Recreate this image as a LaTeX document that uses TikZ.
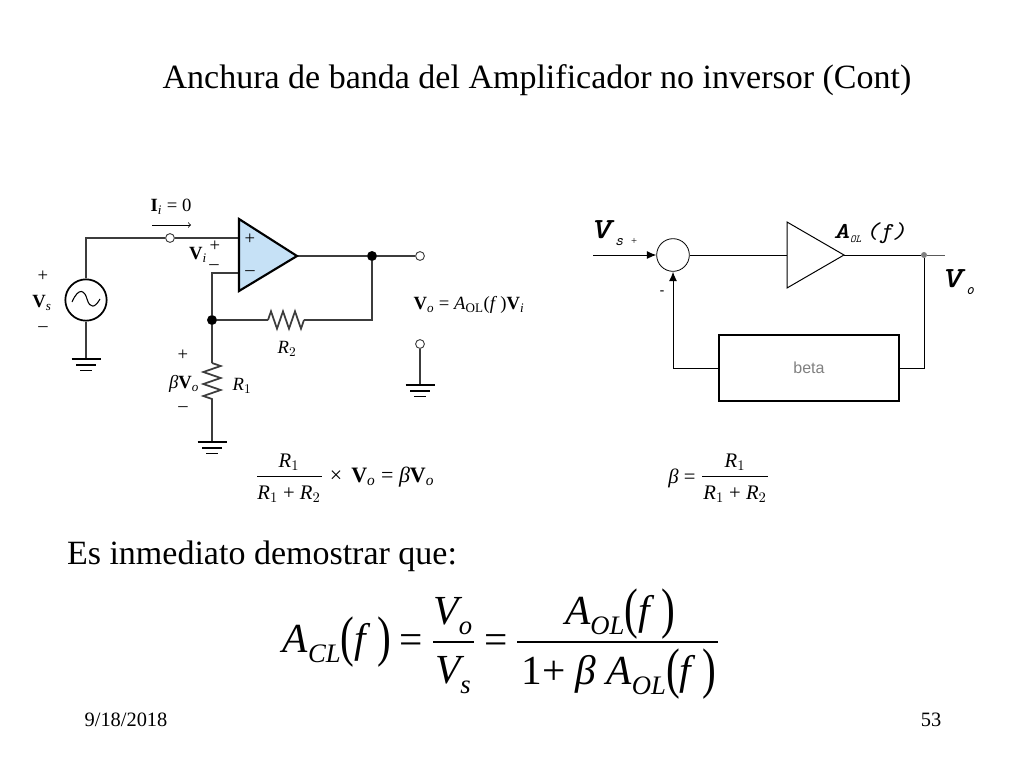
\documentclass[tikz,border=0pt]{standalone}
\usepackage{amsmath}
\usepackage{graphicx}
\usepackage{fontspec}
\setmainfont{Liberation Serif}
\setsansfont{Liberation Sans}
\newfontface\eqit{Liberation Serif Italic}
\usetikzlibrary{decorations.pathmorphing,arrows.meta}
\definecolor{opfill}{HTML}{C6E1F6}
\definecolor{wirec}{HTML}{3C3C3C}
\tikzstyle{wire}=[draw=wirec,line width=0.8pt]
\tikzstyle{thinwire}=[draw=black,line width=0.75pt]
\tikzstyle{blackdot}=[circle,draw=black,fill=black,
                      inner sep=0pt,minimum size=7pt]
\tikzstyle{whitedot}=[circle,draw=wirec,fill=white,line width=0.7pt,
                      inner sep=0pt,minimum size=6.6pt]
\tikzstyle{greydot}=[circle,fill=gray,inner sep=0pt,minimum size=4.5pt]
\tikzstyle{resistor}=[wire,line width=1.3pt,decorate,
                      decoration={zigzag,segment length=9pt,amplitude=6.5pt}]
\tikzstyle{lbl}=[inner sep=0pt,font=\fontsize{14}{16}\selectfont]
\tikzstyle{frm}=[inner sep=0pt,font=\fontsize{15.5}{18}\selectfont]
\tikzstyle{bigeq}=[inner sep=0pt,font=\fontsize{31}{34}\selectfont]
\tikzstyle{foot}=[inner sep=0pt,font=\fontsize{15.3}{18}\selectfont]
\tikzset{ground/.pic={
    \draw[line width=1.3pt] (-14.5,0) -- (14.5,0);
    \draw[line width=1.3pt] (-10,6) -- (10,6);
    \draw[line width=1.3pt] (-6,11.5) -- (6,11.5);
}}
\newcommand{\iv}[1]{\textit{#1}}
\newcommand{\lowi}[1]{$_{\textit{#1}}$}
\newcommand{\bigp}[1]{\raisebox{-2pt}{\scalebox{1}[1.35]{#1}}}
\newcommand{\eqsub}[1]{\raisebox{-7pt}{\fontsize{20}{20}\selectfont\eqit #1}}
\newcommand{\wide}[1]{\scalebox{1.35}[1]{\bfseries\iv{#1}}}
\begin{document}
\begin{tikzpicture}[x=0.75pt,y=-0.75pt]
    \useasboundingbox (0,0) rectangle (1024,768);
    % titles
    \node (title) at (537,80) [inner sep=0pt,font=\fontsize{25.5}{30}\selectfont]
        {Anchura de banda del Amplificador no inversor (Cont)};
    \node (intro) at (262,556) [inner sep=0pt,font=\fontsize{25.5}{30}\selectfont]
        {Es inmediato demostrar que:};
    \node (date) at (126,720) [foot] {9/18/2018};
    \node (page) at (931,720) [foot] {53};

    % circuit on the left
    \coordinate (optl) at (239,219);
    \coordinate (opbl) at (239,291);
    \coordinate (optip) at (297,256);
    \coordinate (opp) at (239,238);
    \coordinate (opm) at (239,273);
    \coordinate (r2a) at (268,320);
    \coordinate (r2b) at (304,320);
    \coordinate (r1a) at (212,363);
    \coordinate (r1b) at (212,400);
    \coordinate (gnds) at (86,359);
    \coordinate (gndr) at (212,442);
    \coordinate (gndo) at (420,385);
    \node (src) at (86,300) [circle,draw=black,line width=1.3pt,minimum size=31pt,inner sep=0pt]{};
    \node (tin) at (170,238) [whitedot]{};
    \node (tout) at (420,256) [whitedot]{};
    \node (tgnd) at (420,344) [whitedot]{};
    \node (nfb) at (212,320) [blackdot]{};
    \node (nout) at (372,256) [blackdot]{};
    \draw[wire] (src) |- (tin) -- (opp);
    \draw[wire] (opm) -| (nfb);
    \draw[wire] (nfb) -- (r2a);
    \draw[wire] (r2b) -| (nout);
    \draw[wire] (optip) -- (nout) -- (tout);
    \draw[wire] (tgnd) -- (gndo);
    \draw[wire] (src) -- (gnds);
    \draw[wire] (nfb) -- (r1a);
    \draw[wire] (r1b) -- (gndr);
    \draw[resistor] (r2a) -- (r2b);
    \draw[resistor] (r1a) -- (r1b);
    \draw[line width=1.6pt,fill=opfill] (optl) -- (optip) -- (opbl) -- cycle;
    \draw[line width=0.8pt] (72,302) .. controls (79,286) and (85,291) .. (87,299)
        .. controls (90,309) and (95,308) .. (100,299);
    \pic at (gnds) {ground};
    \pic at (gndr) {ground};
    \pic at (gndo) {ground};
    \coordinate (iia) at (152,225);
    \coordinate (iib) at (191,225);
    \draw[->,>=to,line width=0.6pt] (iia) -- (iib);

    \node (ii) at (171,207) [lbl] {\textbf{I}\lowi{i} = 0};
    \node (vi) at (198,255) [lbl] {\textbf{V}\lowi{i}};
    \node (vip) at (215,246) [lbl] {+};
    \node (vim) at (214,267) [lbl] {--};
    \node (opplus) at (250,239) [lbl] {+};
    \node (opminus) at (250,273) [lbl] {--};
    \node (vsp) at (43,276) [lbl] {+};
    \node (vs) at (42,303) [lbl] {\textbf{V}\lowi{s}};
    \node (vsm) at (43,329) [lbl] {--};
    \node (vout) at (469,305) [lbl] {\textbf{V}\lowi{o} = \iv{A}$_{\text{OL}}$(\iv{f}\,)\textbf{V}\lowi{i}};
    \node (r2) at (287,349) [lbl] {\iv{R}$_2$};
    \node (r1) at (242,386) [lbl] {\iv{R}$_1$};
    \node (bvp) at (183,355) [lbl] {+};
    \node (bv) at (184,384) [lbl] {\iv{β}\textbf{V}\lowi{o}};
    \node (bvm) at (183,409) [lbl] {--};

    % divider formula
    \coordinate (fa) at (257,476);
    \coordinate (fb) at (322,476);
    \draw[line width=0.7pt] (fa) -- (fb);
    \node (fnum) at (289,462) [frm] {\iv{R}$_1$};
    \node (fden) at (289,494) [frm] {\iv{R}$_1$ + \iv{R}$_2$};
    \node (fres) at (382,477) [frm,font=\fontsize{16.5}{18}\selectfont] {× \,\textbf{V}\lowi{o} = \iv{β}\textbf{V}\lowi{o}};

    % block diagram on the right
    \coordinate (vsin) at (593,255);
    \coordinate (atl) at (787,222);
    \coordinate (abl) at (787,288);
    \coordinate (atip) at (844,255);
    \coordinate (ain) at (787,255);
    \coordinate (vend) at (945,255);
    \node (sum) at (673,255) [circle,draw=black,line width=0.6pt,minimum size=24.5pt,inner sep=0pt]{};
    \node (beta) at (809,368) [rectangle,draw=black,line width=0.9pt,minimum width=135pt,minimum height=49.5pt,inner sep=0pt,
        text=gray,font=\sffamily\fontsize{12}{14}\selectfont]{beta};
    \node (vdot) at (924,255) [greydot]{};
    \draw[thinwire] (sum) -- (ain);
    \draw[thinwire] (atl) -- (atip) -- (abl) -- cycle;
    \draw[thinwire] (atip) -- (vdot);
    \draw[draw=gray!70!black,line width=0.75pt] (vdot) -- (vend);
    \draw[thinwire,-{Latex[length=7pt,width=6pt]}] (vsin) -- (sum);
    \draw[thinwire] (vdot) |- (beta);
    \draw[thinwire,-{Latex[length=7pt,width=6pt]}] (beta) -| (sum);
    \node (vsr) at (607,233) [inner sep=0pt] {\ttfamily\fontsize{22}{24}\selectfont\wide{V}\raisebox{-5pt}{\fontsize{12}{12}\selectfont\iv{s}}};
    \node (plus) at (634,241) [inner sep=0pt,font=\fontsize{8}{9}\selectfont] {+};
    \node (minus) at (662,293) [inner sep=0pt,font=\bfseries\fontsize{10}{12}\selectfont] {-};
    \node (aol) at (870,233) [inner sep=0pt] {\ttfamily\fontsize{17}{19}\selectfont\wide{A}\raisebox{-3pt}{\fontsize{8}{9}\selectfont\iv{OL}}\,\scalebox{1.15}[1]{\iv{(f)}}};
    \node (vor) at (958,282) [inner sep=0pt] {\ttfamily\fontsize{22}{24}\selectfont\wide{V}\raisebox{-5pt}{\fontsize{12}{12}\selectfont\iv{o}}};

    % beta formula
    \coordinate (ga) at (702,476);
    \coordinate (gb) at (768,476);
    \draw[line width=0.7pt] (ga) -- (gb);
    \node (gbeta) at (682,478) [frm] {\iv{β} =};
    \node (gnum) at (735,462) [frm] {\iv{R}$_1$};
    \node (gden) at (735,494) [frm] {\iv{R}$_1$ + \iv{R}$_2$};

    % closed loop gain
    \coordinate (ea) at (433,642);
    \coordinate (eb) at (474,642);
    \coordinate (ec) at (517,642);
    \coordinate (ed) at (718,642);
    \draw[line width=0.9pt] (ea) -- (eb);
    \draw[line width=0.9pt] (ec) -- (ed);
    \node (acl) at (337,642) [bigeq] {{\eqit A}\eqsub{CL}\bigp{(}{\eqit f}\;\bigp{)}};
    \node (eq1) at (411,644) [bigeq] {=};
    \node (vonum) at (453,616) [bigeq] {{\eqit V}\eqsub{o}};
    \node (vsden) at (453,675) [bigeq] {{\eqit V}\eqsub{s}};
    \node (eq2) at (496,644) [bigeq] {=};
    \node (enum) at (620,614) [bigeq] {{\eqit A}\eqsub{OL}\bigp{(}{\eqit f}\;\bigp{)}};
    \node (eden) at (619,674) [bigeq] {1+ {\eqit β} {\eqit A}\eqsub{OL}\bigp{(}{\eqit f}\;\bigp{)}};
\end{tikzpicture}
\end{document}
